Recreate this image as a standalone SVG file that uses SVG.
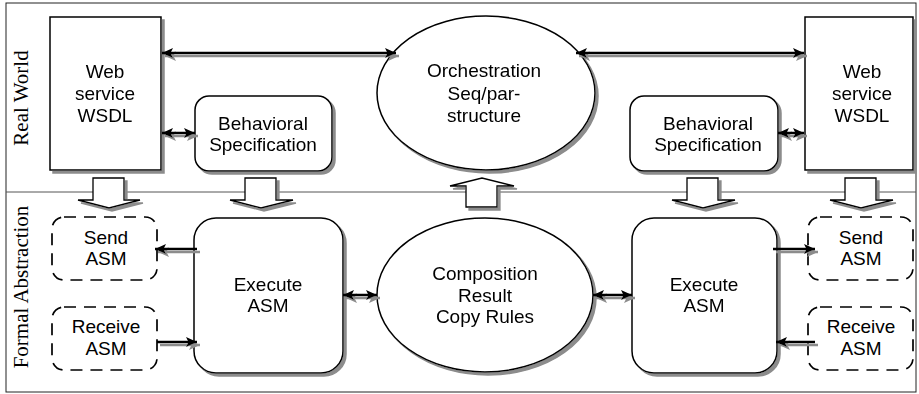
<svg xmlns="http://www.w3.org/2000/svg" width="919" height="394" viewBox="0 0 919 394">
<defs>
<style>
.box{fill:#fff;stroke:#000;stroke-width:1.5}
.dash{fill:#fff;stroke:#000;stroke-width:1.7;stroke-dasharray:12 8}
.blk{fill:#fff;stroke:#000;stroke-width:1.3}
.ln{stroke:#000;stroke-width:2.5;fill:none}
.t{font-family:"Liberation Sans",Arial,sans-serif;font-size:19px;fill:#000;text-anchor:middle}
.lbl{font-family:"Liberation Serif","Times New Roman",serif;font-size:21px;fill:#000;text-anchor:middle}
</style>
<filter id="sh" x="-10%" y="-10%" width="130%" height="130%">
<feFlood flood-color="#8c8c8c" result="c"/>
<feComposite in="c" in2="SourceAlpha" operator="in" result="s"/>
<feOffset in="s" dx="3" dy="3" result="o"/>
<feMerge><feMergeNode in="o"/><feMergeNode in="SourceGraphic"/></feMerge>
</filter>
<marker id="ae" markerWidth="12" markerHeight="10" refX="11" refY="5" orient="auto" markerUnits="userSpaceOnUse">
<path d="M0,0 L11,5 L0,10 L2.5,5 Z" fill="#000"/>
</marker>
<marker id="as" markerWidth="12" markerHeight="10" refX="0" refY="5" orient="auto" markerUnits="userSpaceOnUse">
<path d="M11,0 L0,5 L11,10 L8.5,5 Z" fill="#000"/>
</marker>
</defs>
<rect width="919" height="394" fill="#fff"/>
<rect x="6" y="3" width="910" height="389" fill="none" stroke="#222" stroke-width="1"/>
<line x1="6" y1="192" x2="916" y2="192" stroke="#555" stroke-width="1"/>
<text class="lbl" transform="translate(28,98) rotate(-90)">Real World</text>
<text class="lbl" transform="translate(28,287) rotate(-90)">Formal Abstraction</text>

<g id="blockarrows" filter="url(#sh)">
<path class="blk" d="M93,178 H124 V200 H140 L109,208 L78,200 H93 Z"/>
<path class="blk" d="M245,178 H276 V200 H293 L261,208 L230,200 H245 Z"/>
<path class="blk" d="M466,207 H497 V186 H514 L482,178 L450,186 H466 Z"/>
<path class="blk" d="M687,178 H718 V200 H735 L703,208 L672,200 H687 Z"/>
<path class="blk" d="M845,178 H876 V200 H893 L861,208 L830,200 H845 Z"/>
</g>

<g id="ws-left" filter="url(#sh)">
<rect class="box" x="50" y="17" width="111" height="153"/>
<text class="t" x="105" y="78">Web</text>
<text class="t" x="105" y="100">service</text>
<text class="t" x="105" y="122">WSDL</text>
</g>
<g id="bs-left" filter="url(#sh)">
<rect class="box" x="195" y="96" width="137" height="75" rx="14"/>
<text class="t" x="263" y="130">Behavioral</text>
<text class="t" x="263" y="151">Specification</text>
</g>
<g id="orch" filter="url(#sh)">
<ellipse class="box" cx="486" cy="93" rx="109" ry="77"/>
<text class="t" x="484" y="77">Orchestration</text>
<text class="t" x="484" y="100">Seq/par-</text>
<text class="t" x="484" y="122">structure</text>
</g>
<g id="bs-right" filter="url(#sh)">
<rect class="box" x="630" y="96" width="148" height="75" rx="14"/>
<text class="t" x="708" y="130">Behavioral</text>
<text class="t" x="708" y="151">Specification</text>
</g>
<g id="ws-right" filter="url(#sh)">
<rect class="box" x="805" y="17" width="108" height="153"/>
<text class="t" x="862" y="78">Web</text>
<text class="t" x="862" y="100">service</text>
<text class="t" x="862" y="122">WSDL</text>
</g>

<g id="send-left">
<rect class="dash" x="52" y="217" width="105" height="63" rx="12"/>
<text class="t" x="106" y="244">Send</text>
<text class="t" x="106" y="265">ASM</text>
</g>
<g id="recv-left">
<rect class="dash" x="52" y="307" width="105" height="63" rx="12"/>
<text class="t" x="106" y="333">Receive</text>
<text class="t" x="106" y="355">ASM</text>
</g>
<g id="exec-left" filter="url(#sh)">
<rect class="box" x="194" y="218" width="149" height="155" rx="22"/>
<text class="t" x="268" y="291">Execute</text>
<text class="t" x="268" y="312">ASM</text>
</g>
<g id="comp" filter="url(#sh)">
<ellipse class="box" cx="485" cy="295" rx="108" ry="77"/>
<text class="t" x="485" y="280">Composition</text>
<text class="t" x="485" y="302">Result</text>
<text class="t" x="485" y="323">Copy Rules</text>
</g>
<g id="exec-right" filter="url(#sh)">
<rect class="box" x="632" y="218" width="145" height="155" rx="22"/>
<text class="t" x="704" y="291">Execute</text>
<text class="t" x="704" y="312">ASM</text>
</g>
<g id="send-right">
<rect class="dash" x="808" y="217" width="105" height="63" rx="12"/>
<text class="t" x="861" y="244">Send</text>
<text class="t" x="861" y="265">ASM</text>
</g>
<g id="recv-right">
<rect class="dash" x="808" y="307" width="105" height="63" rx="12"/>
<text class="t" x="861" y="333">Receive</text>
<text class="t" x="861" y="355">ASM</text>
</g>

<g id="connectors" filter="url(#sh)">
<line class="ln" x1="162" y1="53" x2="396" y2="53" marker-start="url(#as)" marker-end="url(#ae)"/>
<line class="ln" x1="576" y1="53" x2="804" y2="53" marker-start="url(#as)" marker-end="url(#ae)"/>
<line class="ln" x1="162" y1="133" x2="195" y2="133" marker-start="url(#as)" marker-end="url(#ae)"/>
<line class="ln" x1="778" y1="133" x2="804" y2="133" marker-start="url(#as)" marker-end="url(#ae)"/>
<line class="ln" x1="343" y1="295" x2="377" y2="295" marker-start="url(#as)" marker-end="url(#ae)"/>
<line class="ln" x1="593" y1="295" x2="632" y2="295" marker-start="url(#as)" marker-end="url(#ae)"/>
<line class="ln" x1="197" y1="249" x2="155" y2="249" marker-end="url(#ae)"/>
<line class="ln" x1="157" y1="342" x2="197" y2="342" marker-end="url(#ae)"/>
<line class="ln" x1="773" y1="249" x2="815" y2="249" marker-end="url(#ae)"/>
<line class="ln" x1="815" y1="342" x2="776" y2="342" marker-end="url(#ae)"/>
</g>
</svg>
